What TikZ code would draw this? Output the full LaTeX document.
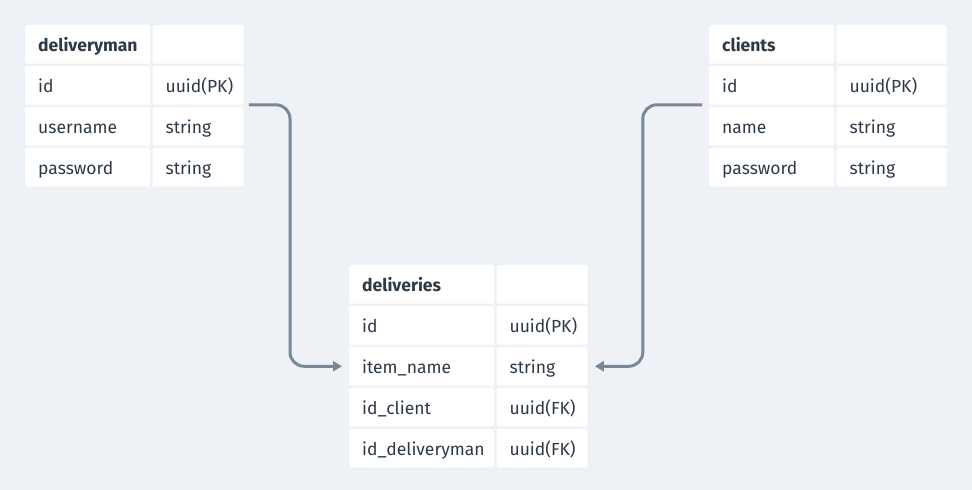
\documentclass[tikz,border=0pt]{standalone}
\usepackage{fontspec}
\setmainfont{Fira Sans}
\usetikzlibrary{arrows.meta,positioning}

\definecolor{pagebg}{HTML}{EEF2F6}
\definecolor{linkgrey}{HTML}{788897}
\definecolor{inkdark}{HTML}{2D3A46}

\begin{document}
\begin{tikzpicture}[
  x=1pt, y=1pt,
  cell/.style={fill=white, rounded corners=1.5pt, inner xsep=13pt, inner ysep=0pt,
    minimum height=38.5pt, text height=14pt, text depth=0pt, align=left,
    text=inkdark, font=\fontsize{17.5}{20}\selectfont},
  keynarrow/.style={cell, text width=99pt},
  keywide/.style={cell, text width=119pt},
  typenarrow/.style={cell, text width=65pt},
  typewide/.style={cell, text width=84pt},
  link/.style={draw=linkgrey, line width=3pt, rounded corners=14pt,
    -{Triangle[length=9pt,width=10pt]}},
  node distance=2pt
]
  \fill[pagebg] (0,0) rectangle (972,-490);
  \useasboundingbox (0,0) rectangle (972,-490);

  % deliveryman
  \node[keynarrow, anchor=north west] (dmhead) at (25,-25) {\textbf{deliveryman}};
  \node[typenarrow, right=of dmhead] (dmheadtype) {};
  \node[keynarrow, below=of dmhead] (dmid) {id};
  \node[typenarrow, right=of dmid] (dmidtype) {uuid(PK)};
  \node[keynarrow, below=of dmid] (dmuser) {username};
  \node[typenarrow, right=of dmuser] (dmusertype) {string};
  \node[keynarrow, below=of dmuser] (dmpass) {password};
  \node[typenarrow, right=of dmpass] (dmpasstype) {string};

  % clients
  \node[keynarrow, anchor=north west] (clhead) at (709,-25) {\textbf{clients}};
  \node[typewide, right=of clhead] (clheadtype) {};
  \node[keynarrow, below=of clhead] (clid) {id};
  \node[typewide, right=of clid] (clidtype) {uuid(PK)};
  \node[keynarrow, below=of clid] (clname) {name};
  \node[typewide, right=of clname] (clnametype) {string};
  \node[keynarrow, below=of clname] (clpass) {password};
  \node[typewide, right=of clpass] (clpasstype) {string};

  % deliveries
  \node[keywide, anchor=north west] (dvhead) at (349,-265) {\textbf{deliveries}};
  \node[typenarrow, right=of dvhead] (dvheadtype) {};
  \node[keywide, below=of dvhead] (dvid) {id};
  \node[typenarrow, right=of dvid] (dvidtype) {uuid(PK)};
  \node[keywide, below=of dvid] (dvitem) {item\_name};
  \node[typenarrow, right=of dvitem] (dvitemtype) {string};
  \node[keywide, below=of dvitem] (dvclient) {id\_client};
  \node[typenarrow, right=of dvclient] (dvclienttype) {uuid(FK)};
  \node[keywide, below=of dvclient] (dvman) {id\_deliveryman};
  \node[typenarrow, right=of dvman] (dvmantype) {uuid(FK)};

  % relations
  \draw[link] ([xshift=5pt]dmidtype.south east) -| ([xshift=-59pt]dvitem.west)
    -- ([xshift=-7pt]dvitem.west);
  \draw[link] ([xshift=-7pt]clid.south west) -| ([xshift=55pt]dvitemtype.east)
    -- ([xshift=7pt]dvitemtype.east);
\end{tikzpicture}
\end{document}
